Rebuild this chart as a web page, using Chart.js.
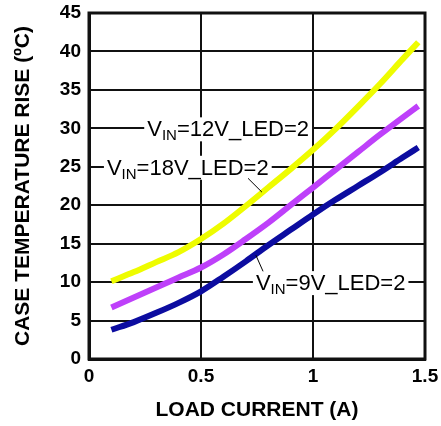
<!DOCTYPE html>
<html>
<head>
<meta charset="utf-8">
<script src="https://cdn.jsdelivr.net/npm/chart.js@4.4.1/dist/chart.umd.min.js"></script>
<style>
  html, body { margin: 0; padding: 0; background: #fff; }
  #wrap { width: 441px; height: 426px; }
</style>
</head>
<body>
<div id="wrap"><canvas id="c" width="441" height="426"></canvas></div>
<script>
const loadCurrent = [0.1, 0.2, 0.3, 0.4, 0.5, 0.6, 0.7, 0.8, 0.9, 1.0, 1.1, 1.2, 1.3, 1.4, 1.47];
const rise12V = [10.1, 11.3, 12.6, 13.9, 15.6, 17.6, 19.9, 22.3, 24.7, 27.2, 29.9, 32.8, 35.8, 39.0, 41.2];
const rise18V = [6.7, 8.0, 9.3, 10.6, 11.9, 13.6, 15.6, 17.7, 20.0, 22.3, 24.6, 26.9, 29.2, 31.4, 32.9];
const rise9V  = [3.8, 4.8, 6.0, 7.3, 8.8, 10.7, 12.7, 14.8, 16.8, 18.8, 20.7, 22.5, 24.3, 26.2, 27.5];
const xTickLabels = ['0', '0.5', '1', '1.5'];
const yTickLabels = ['0', '5', '10', '15', '20', '25', '30', '35', '40', '45'];
const xTitle = 'LOAD CURRENT (A)';
const yTitle = 'CASE TEMPERATURE RISE (ºC)';
const labels = [
  { pre: 'V', sub: 'IN', post: '=12V_LED=2', x: 0.26, y: 30, leader: null },
  { pre: 'V', sub: 'IN', post: '=18V_LED=2', x: 0.08, y: 25, leader: [0.71, 23.5, 0.772, 21.7] },
  { pre: 'V', sub: 'IN', post: '=9V_LED=2', x: 0.745, y: 10, leader: [0.777, 11.4, 0.745, 13.5] }
];

function pts(ys) { return loadCurrent.map((x, i) => ({ x: x, y: ys[i] })); }

const annotPlugin = {
  id: 'annot',
  afterDatasetsDraw(chart) {
    const ctx = chart.ctx, xs = chart.scales.x, ys = chart.scales.y;
    ctx.save();
    const mainFont = '22px "Liberation Sans", Arial, sans-serif';
    const subFont = '15px "Liberation Sans", Arial, sans-serif';
    labels.forEach(l => {
      const px = xs.getPixelForValue(l.x), py = ys.getPixelForValue(l.y);
      ctx.font = mainFont;
      const w1 = ctx.measureText(l.pre).width;
      const w3 = ctx.measureText(l.post).width;
      ctx.font = subFont;
      const w2 = ctx.measureText(l.sub).width;
      const total = w1 + w2 + w3;
      ctx.fillStyle = '#fff';
      ctx.fillRect(px - 3, py - 11, total + 6, 24);
      ctx.fillStyle = '#000';
      ctx.textBaseline = 'alphabetic';
      ctx.textAlign = 'left';
      const base = py + 8;
      ctx.font = mainFont;
      ctx.fillText(l.pre, px, base);
      ctx.font = subFont;
      ctx.fillText(l.sub, px + w1, base + 4);
      ctx.font = mainFont;
      ctx.fillText(l.post, px + w1 + w2, base);
      if (l.leader) {
        ctx.strokeStyle = '#000';
        ctx.lineWidth = 1;
        ctx.beginPath();
        ctx.moveTo(xs.getPixelForValue(l.leader[0]), ys.getPixelForValue(l.leader[1]));
        ctx.lineTo(xs.getPixelForValue(l.leader[2]), ys.getPixelForValue(l.leader[3]));
        ctx.stroke();
      }
    });
    const a = chart.chartArea;
    ctx.strokeStyle = '#111';
    ctx.lineWidth = 3;
    ctx.strokeRect(a.left, a.top, a.right - a.left, a.bottom - a.top);
    ctx.restore();
  }
};

new Chart(document.getElementById('c'), {
  type: 'line',
  data: {
    datasets: [
      { label: '12V', data: pts(rise12V), borderColor: 'rgb(238,252,0)', borderWidth: 6, cubicInterpolationMode: 'monotone', pointRadius: 0, fill: false },
      { label: '18V', data: pts(rise18V), borderColor: 'rgb(190,64,250)', borderWidth: 6, cubicInterpolationMode: 'monotone', pointRadius: 0, fill: false },
      { label: '9V', data: pts(rise9V), borderColor: 'rgb(12,12,160)', borderWidth: 6, cubicInterpolationMode: 'monotone', pointRadius: 0, fill: false }
    ]
  },
  options: {
    responsive: false,
    animation: false,
    events: [],
    layout: { padding: { top: 13, right: 16, left: 0, bottom: 0 } },
    plugins: { legend: { display: false }, tooltip: { enabled: false } },
    scales: {
      x: {
        type: 'linear', min: 0, max: 1.5,
        afterFit: s => { s.height = 67; s.paddingLeft = 0; s.paddingRight = 0; },
        afterBuildTicks: s => { s.ticks = xTickLabels.map(v => ({ value: parseFloat(v) })); },
        ticks: {
          callback: (v) => xTickLabels.find(t => parseFloat(t) === v),
          color: '#000', padding: 6, maxRotation: 0,
          font: { family: '"Liberation Sans", Arial, sans-serif', size: 19, weight: 'bold' }
        },
        grid: { color: '#111', lineWidth: 2, drawTicks: false },
        border: { color: '#111', width: 3 },
        title: {
          display: true, text: xTitle, color: '#000', padding: { top: 0, bottom: 3 },
          font: { family: '"Liberation Sans", Arial, sans-serif', size: 21, weight: 'bold' }
        }
      },
      y: {
        type: 'linear', min: 0, max: 45,
        afterFit: s => { s.width = 89; s.paddingTop = 0; s.paddingBottom = 0; },
        afterBuildTicks: s => { s.ticks = yTickLabels.map(v => ({ value: parseFloat(v) })); },
        ticks: {
          callback: (v) => yTickLabels.find(t => parseFloat(t) === v),
          color: '#000', padding: 8,
          font: { family: '"Liberation Sans", Arial, sans-serif', size: 19, weight: 'bold' }
        },
        grid: { color: '#111', lineWidth: 2, drawTicks: false },
        border: { color: '#111', width: 3 },
        title: {
          display: true, text: yTitle, color: '#000', padding: { top: 11, bottom: 0 },
          font: { family: '"Liberation Sans", Arial, sans-serif', size: 21, weight: 'bold' }
        }
      }
    }
  },
  plugins: [annotPlugin]
});
</script>
</body>
</html>
